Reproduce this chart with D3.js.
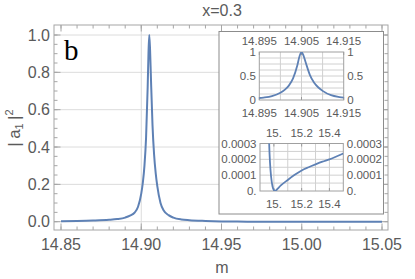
<!DOCTYPE html>
<html><head><meta charset="utf-8">
<script src="https://cdn.jsdelivr.net/npm/d3@7"></script>
<style>body{margin:0;background:#fff}svg{display:block}text{font-family:"Liberation Sans",Arial,sans-serif}text.serif{font-family:"Liberation Serif","Times New Roman",serif}</style>
</head><body><svg id="c" width="415" height="279"></svg>
<script>
const title = "x=0.3";
const panelLabel = "b";
const xLabel = "m";
// |a1|^2 versus m
const mVals = [14.85,14.86,14.87,14.88,14.885,14.89,14.893,14.896,14.898,14.9,14.901,14.902,14.903,14.904,14.9045,14.905,14.9055,14.906,14.907,14.908,14.909,14.91,14.912,14.914,14.917,14.92,14.925,14.93,14.94,14.95,14.96,14.966,14.972,14.98,14.99,15.0,15.01,15.02,15.05,15.1,15.15,15.2,15.25,15.3,15.35,15.4,15.45,15.5];
const a1Vals = [0.003,0.004,0.006,0.010,0.014,0.022,0.032,0.05,0.08,0.15,0.21,0.30,0.45,0.72,0.90,1.0,0.92,0.78,0.52,0.36,0.26,0.19,0.10,0.06,0.035,0.022,0.012,0.008,0.004,0.0015,0.0005,0.0003,0.00018,0.00009,0.00003,0.000005,0.0,0.000008,0.000035,0.00007,0.000102,0.00013,0.00015,0.000168,0.000185,0.0002,0.000218,0.000237];

const mainXTicks = [14.85,14.90,14.95,15.00,15.05];
const mainXTickLabels = ["14.85","14.90","14.95","15.00","15.05"];
const mainYTicks = [0,0.2,0.4,0.6,0.8,1.0];
const mainYTickLabels = ["0.0","0.2","0.4","0.6","0.8","1.0"];
const inset1XTicks = [14.895,14.905,14.915];
const inset1XTickLabels = ["14.895","14.905","14.915"];
const inset1YTicks = [0,0.5,1];
const inset1YTickLabels = ["0","0.5","1"];
const inset2XTicks = [15.0,15.2,15.4];
const inset2XTickLabels = ["15.","15.2","15.4"];
const inset2YTicks = [0,0.0001,0.0002,0.0003];
const inset2YTickLabels = ["0.","0.0001","0.0002","0.0003"];

const data = mVals.map((m,i)=>({m, v:a1Vals[i]}));
const svg = d3.select("#c");
const blue = "#5e81b5", txt = "#5a5a5a", frameC = "#a6a6a6", gridC = "#dcdcdc";

// ---- main plot ----
const F = {l:54, r:388, t:25, b:230};
const x = d3.scaleLinear().domain([14.85,15.05]).range([61,382]);
const y = d3.scaleLinear().domain([0,1]).range([221.7,35]);

const g = svg.append("g");
g.selectAll(".hg").data(mainYTicks).join("line")
  .attr("x1",F.l).attr("x2",F.r).attr("y1",d=>y(d)).attr("y2",d=>y(d))
  .attr("stroke",gridC).attr("stroke-width",1);
g.append("line").attr("x1",x(14.90)).attr("x2",x(14.90)).attr("y1",F.t).attr("y2",F.b)
  .attr("stroke",gridC).attr("stroke-width",1);

const xMinor = d3.range(14.85,15.0501,0.01);
const yMinor = d3.range(0,1.0001,0.05);
function tickX(vals,len){
  vals.forEach(v=>{
    g.append("line").attr("x1",x(v)).attr("x2",x(v)).attr("y1",F.b).attr("y2",F.b-len).attr("stroke",frameC);
    g.append("line").attr("x1",x(v)).attr("x2",x(v)).attr("y1",F.t).attr("y2",F.t+len).attr("stroke",frameC);
  });
}
function tickY(vals,len){
  vals.forEach(v=>{
    g.append("line").attr("y1",y(v)).attr("y2",y(v)).attr("x1",F.l).attr("x2",F.l+len).attr("stroke",frameC);
    g.append("line").attr("y1",y(v)).attr("y2",y(v)).attr("x1",F.r).attr("x2",F.r-len).attr("stroke",frameC);
  });
}
tickX(xMinor,3.5); tickX(mainXTicks,6.5);
tickY(yMinor,3.5); tickY(mainYTicks,6.5);

g.append("rect").attr("x",F.l).attr("y",F.t).attr("width",F.r-F.l).attr("height",F.b-F.t)
  .attr("fill","none").attr("stroke",frameC).attr("stroke-width",1);

g.append("path").datum(data.filter(d=>d.m<=15.0501))
  .attr("d",d3.line().x(d=>x(d.m)).y(d=>y(d.v)).curve(d3.curveMonotoneX))
  .attr("fill","none").attr("stroke",blue).attr("stroke-width",2);

g.selectAll(".xl").data(mainXTicks).join("text")
  .attr("x",d=>x(d)).attr("y",250).attr("text-anchor","middle")
  .attr("font-size",16).attr("fill",txt).text((d,i)=>mainXTickLabels[i]);
g.selectAll(".yl").data(mainYTicks).join("text")
  .attr("x",50).attr("y",d=>y(d)+5.5).attr("text-anchor","end")
  .attr("font-size",16).attr("fill",txt).text((d,i)=>mainYTickLabels[i]);

svg.append("text").attr("x",222).attr("y",15.5).attr("text-anchor","middle")
  .attr("font-size",16).attr("fill",txt).text(title);
svg.append("text").attr("x",222).attr("y",273).attr("text-anchor","middle")
  .attr("font-size",16).attr("fill",txt).text(xLabel);
svg.append("text").attr("class","serif").attr("x",64).attr("y",60).attr("font-size",29)
  .attr("fill","#000").text(panelLabel);

const yl = svg.append("text").attr("transform","translate(20,128) rotate(-90)")
  .attr("text-anchor","middle").attr("font-size",17).attr("fill",txt);
yl.append("tspan").text("|\u2009a");
yl.append("tspan").attr("dy",3).attr("font-size",11).text("1");
yl.append("tspan").attr("dy",-3).text("\u2009|");
yl.append("tspan").attr("dy",-7).attr("font-size",11).text("2");

// ---- inset box ----
svg.append("rect").attr("x",219).attr("y",31.5).attr("width",164.5).attr("height",182.5)
  .attr("fill","#fff").attr("stroke","#8c8c8c").attr("stroke-width",1);

function inset(id, xs, ys, xGrid, yGrid, xT, xTL, yT, yTL, topBase, botBase){
  const [x0,x1] = xs.range(), [y0,y1] = ys.range();
  const ig = svg.append("g");
  ig.append("clipPath").attr("id",id).append("rect").attr("x",x0).attr("y",y1).attr("width",x1-x0).attr("height",y0-y1);
  ig.selectAll(".vg").data(xGrid).join("line").attr("x1",d=>xs(d)).attr("x2",d=>xs(d)).attr("y1",y1).attr("y2",y0)
    .attr("stroke","#d0d0d0").attr("stroke-width",1);
  ig.selectAll(".hg").data(yGrid).join("line").attr("y1",d=>ys(d)).attr("y2",d=>ys(d)).attr("x1",x0).attr("x2",x1)
    .attr("stroke","#d0d0d0").attr("stroke-width",1);
  xT.forEach(v=>{
    ig.append("line").attr("x1",xs(v)).attr("x2",xs(v)).attr("y1",y0).attr("y2",y0-3).attr("stroke","#999");
    ig.append("line").attr("x1",xs(v)).attr("x2",xs(v)).attr("y1",y1).attr("y2",y1+3).attr("stroke","#999");
  });
  ig.append("rect").attr("x",x0).attr("y",y1).attr("width",x1-x0).attr("height",y0-y1)
    .attr("fill","none").attr("stroke","#a0a0a0").attr("stroke-width",1);
  ig.append("path").datum(data).attr("clip-path",`url(#${id})`)
    .attr("d",d3.line().x(d=>xs(d.m)).y(d=>ys(d.v)).curve(d3.curveMonotoneX))
    .attr("fill","none").attr("stroke",blue).attr("stroke-width",1.8);
  xT.forEach((v,i)=>{
    ig.append("text").attr("x",xs(v)).attr("y",topBase).attr("text-anchor","middle").attr("font-size",11.5).attr("fill",txt).text(xTL[i]);
    ig.append("text").attr("x",xs(v)).attr("y",botBase).attr("text-anchor","middle").attr("font-size",11.5).attr("fill",txt).text(xTL[i]);
  });
  yT.forEach((v,i)=>{
    ig.append("text").attr("x",x0-3.5).attr("y",ys(v)+4).attr("text-anchor","end").attr("font-size",11.5).attr("fill",txt).text(yTL[i]);
    ig.append("text").attr("x",x1+3.5).attr("y",ys(v)+4).attr("text-anchor","start").attr("font-size",11.5).attr("fill",txt).text(yTL[i]);
  });
}
const xi1 = d3.scaleLinear().domain([14.895,14.915]).range([259.3,343.7]);
const yi1 = d3.scaleLinear().domain([0,1]).range([100,52]);
inset("c1", xi1, yi1, [14.9,14.905,14.91], d3.range(0.125,1,0.125),
  inset1XTicks, inset1XTickLabels, inset1YTicks, inset1YTickLabels, 45, 116.5);
const xi2 = d3.scaleLinear().domain([14.9,15.5]).range([260,343.3]);
const yi2 = d3.scaleLinear().domain([0,0.0003]).range([191,143.5]);
inset("c2", xi2, yi2, d3.range(15.0,15.45,0.1), d3.range(0.00005,0.00029,0.00005),
  inset2XTicks, inset2XTickLabels, inset2YTicks, inset2YTickLabels, 136.5, 207.5);
</script></body></html>
